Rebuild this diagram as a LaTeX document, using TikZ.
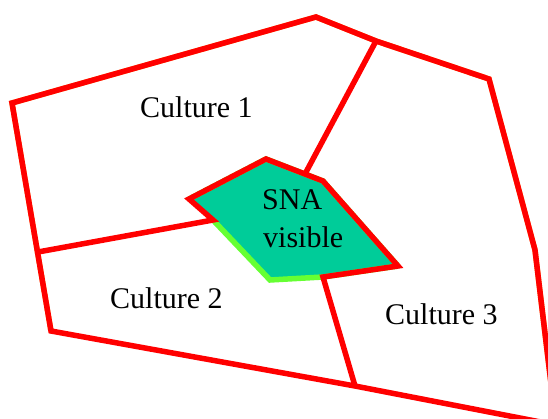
\documentclass[tikz,border=0pt]{standalone}
\usepackage{fontspec}
\setmainfont{Liberation Serif}
\definecolor{snafill}{RGB}{0,204,153}
\definecolor{snaedge}{RGB}{102,255,51}
\definecolor{bordred}{RGB}{255,0,0}
\definecolor{bordorange}{RGB}{255,170,60}
\begin{document}
\begin{tikzpicture}[x=1pt,y=-1pt,
  redline/.style={draw=bordred,line width=5.5pt,line join=miter,line cap=butt},
  orangeline/.style={draw=bordorange,line width=5.5pt,line join=miter},
  greenline/.style={draw=snaedge,line width=5.5pt,line join=miter},
  label/.style={font=\fontsize{30}{36}\selectfont,inner sep=0pt,anchor=base west,text=black}]
\useasboundingbox (0,0) rectangle (548,419);
\clip (0,0) rectangle (548,419);
% outer vertices
\coordinate (A) at (12,103);
\coordinate (B) at (316,17);
\coordinate (J1) at (376,41);
\coordinate (C) at (489,79);
\coordinate (D) at (535,250);
\coordinate (E) at (556,425);
\coordinate (F) at (355,386);
\coordinate (G) at (51,331);
\coordinate (J2) at (38,252);
% SNA vertices
\coordinate (P1) at (213,220);
\coordinate (P2) at (189,199);
\coordinate (P3) at (266,159);
\coordinate (P4) at (323,181);
\coordinate (P5) at (398,266);
\coordinate (P6) at (323,277);
\coordinate (P7) at (270,280);
\coordinate (J3) at (305,174);
% orange sliver under outer border
\draw[orangeline,shift={(-0.8,-1.3)}] (G) -- (A) -- (B) -- (J1) -- (C) -- (D) -- (E);
% SNA region
\fill[snafill] (P2) -- (P3) -- (P4) -- (P5) -- (P6) -- (P7) -- (P1) -- cycle;
\draw[greenline,shift={(1.5,-2)}] (P2) -- (P3) -- (P4) -- (P5);
\draw[greenline] (P5) -- (P6) -- (P7) -- (P1);
% green slivers under inner borders
\draw[greenline,line width=4pt,shift={(-1.2,-0.8)}] (J2) -- (P1);
\draw[greenline,line width=4pt,shift={(-1.2,0)}] (J1) -- (J3);
\draw[greenline,line width=4pt,shift={(-1.2,0)}] (P6) -- (F);
% red borders
\draw[redline] (A) -- (B) -- (J1) -- (C) -- (D) -- (E) -- (F) -- (G) -- cycle;
\draw[redline] (J2) -- (P1) -- (P2) -- (P3) -- (P4) -- (P5) -- (P6) -- (F);
\draw[redline] (J1) -- (J3);
% labels
\node[label] (c1) at (140,118) {Culture 1};
\node[label] (c2) at (110,308) {Culture 2};
\node[label] (c3) at (385,324) {Culture 3};
\node[label] (sna) at (262,210) {SNA};
\node[label] (vis) at (263,248) {visible};
\end{tikzpicture}
\end{document}
